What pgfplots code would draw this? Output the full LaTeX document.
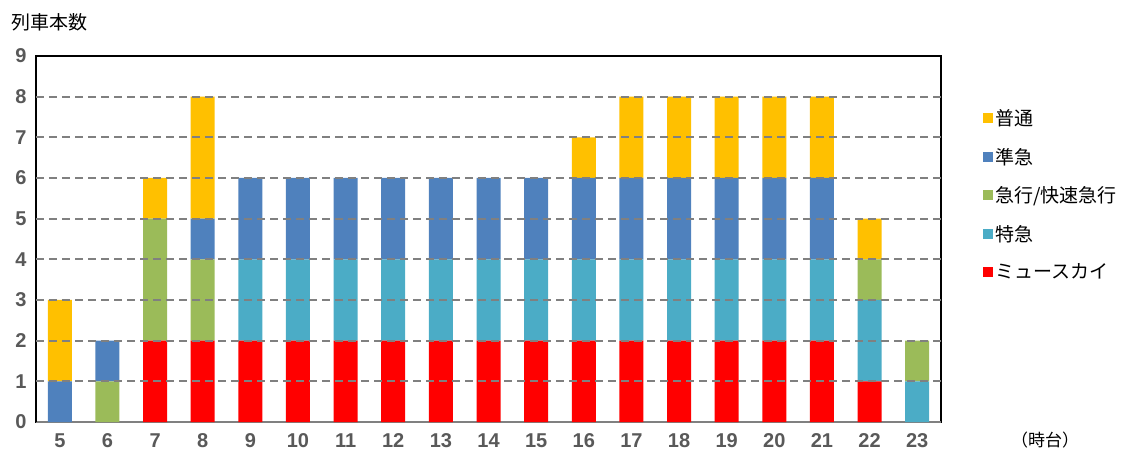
\documentclass[border=0pt]{standalone}
\usepackage{fontspec}
\setmainfont{Liberation Sans}
\newfontfamily\cjk{Noto Sans CJK JP}
\usepackage{pgfplots}
\pgfplotsset{compat=1.18}
\definecolor{cFutsu}{HTML}{FFC000}
\definecolor{cJunkyu}{HTML}{4F81BD}
\definecolor{cKyuko}{HTML}{9BBB59}
\definecolor{cTokkyu}{HTML}{4BACC6}
\definecolor{cMu}{HTML}{FF0000}
\definecolor{tickgray}{HTML}{595959}
\definecolor{gridgray}{HTML}{808080}
\begin{document}
\begin{tikzpicture}
\path[use as bounding box] (-36pt,-30pt) rectangle (1093pt,422pt);
\begin{axis}[
  at={(0pt,0pt)}, anchor=south west,
  scale only axis, width=905pt, height=366pt,
  ybar stacked, bar width=24pt,
  xmin=4.5, xmax=23.5, ymin=0, ymax=9,
  xtick={5,...,23}, ytick={0,...,9},
  major tick length=0pt,
  /pgf/number format/assume math mode=true,
  ticklabel style={font=\bfseries\fontsize{20}{20}\selectfont, color=tickgray},
  xticklabel style={yshift=-8pt},
  yticklabel style={xshift=-6pt},
  axis line style={black, line width=1.2pt},
  legend style={draw=none, fill=none, at={(1.043,0.865)}, anchor=north west,
    font=\cjk\fontsize{19}{19}\selectfont, row sep=17pt, cells={anchor=west}},
  reverse legend,
  legend image code/.code={\fill[#1] (0pt,-5pt) rectangle (10pt,5pt);},
  every axis plot/.append style={draw=none},
]
\pgfplotsinvokeforeach{1,...,8}{
  \draw[gridgray, line width=2pt, dash pattern=on 8pt off 5pt] (axis cs:4.5,#1) -- (axis cs:23.5,#1);
}
\addplot[fill=cMu] coordinates {(5,0) (6,0) (7,2) (8,2) (9,2) (10,2) (11,2) (12,2) (13,2) (14,2) (15,2) (16,2) (17,2) (18,2) (19,2) (20,2) (21,2) (22,1) (23,0)};
\addplot[fill=cTokkyu] coordinates {(5,0) (6,0) (7,0) (8,0) (9,2) (10,2) (11,2) (12,2) (13,2) (14,2) (15,2) (16,2) (17,2) (18,2) (19,2) (20,2) (21,2) (22,2) (23,1)};
\addplot[fill=cKyuko] coordinates {(5,0) (6,1) (7,3) (8,2) (9,0) (10,0) (11,0) (12,0) (13,0) (14,0) (15,0) (16,0) (17,0) (18,0) (19,0) (20,0) (21,0) (22,1) (23,1)};
\addplot[fill=cJunkyu] coordinates {(5,1) (6,1) (7,0) (8,1) (9,2) (10,2) (11,2) (12,2) (13,2) (14,2) (15,2) (16,2) (17,2) (18,2) (19,2) (20,2) (21,2) (22,0) (23,0)};
\addplot[fill=cFutsu] coordinates {(5,2) (6,0) (7,1) (8,3) (9,0) (10,0) (11,0) (12,0) (13,0) (14,0) (15,0) (16,1) (17,2) (18,2) (19,2) (20,2) (21,2) (22,1) (23,0)};
\legend{ミュースカイ,特急,急行/快速急行,準急,普通}
\draw[black, line width=2.2pt] (rel axis cs:0,0) -- (rel axis cs:0,1);
\draw[gray, line width=1.5pt] (rel axis cs:0,0) -- (rel axis cs:1,0);
\end{axis}
\node[font=\cjk\fontsize{19}{19}\selectfont] at (14pt,400pt) {列車本数};
\node[font=\cjk\fontsize{17}{17}\selectfont] at (1009pt,-18pt) {（時台）};
\end{tikzpicture}
\end{document}
